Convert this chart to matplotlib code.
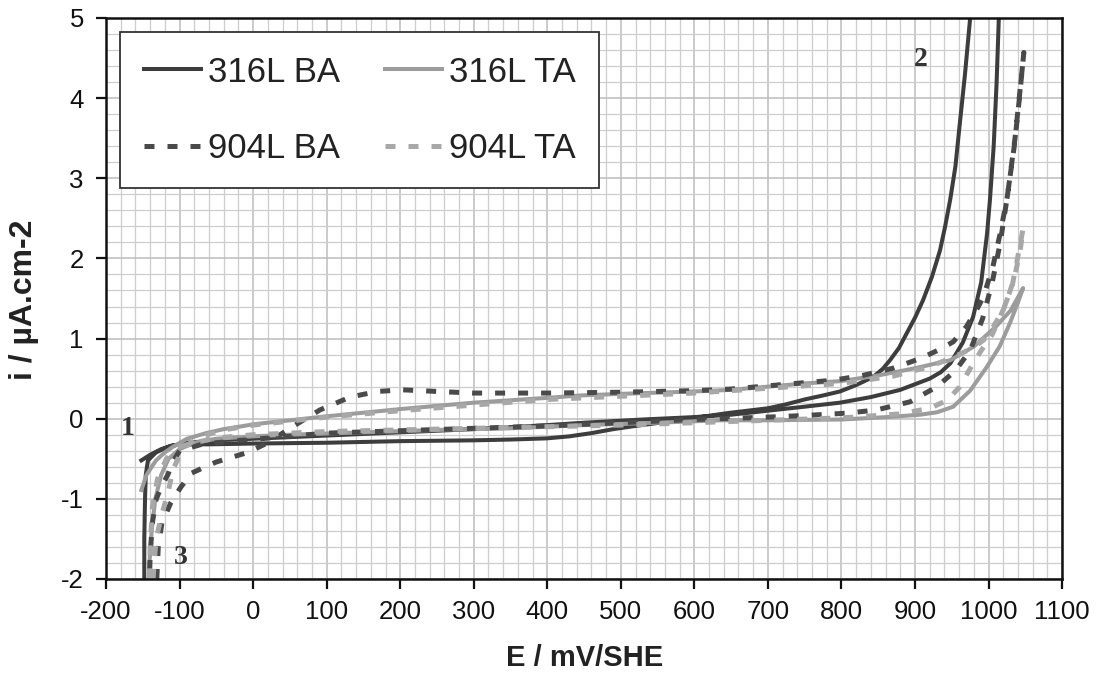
import matplotlib
matplotlib.use("Agg")
import matplotlib.pyplot as plt
from matplotlib.ticker import MultipleLocator

plt.rcParams["font.family"] = ["Liberation Sans", "DejaVu Sans"]
plt.rcParams["axes.unicode_minus"] = False

# potentiodynamic loops, E in mV/SHE, i in uA/cm2 (forward scan then reverse scan)
e_316_ba = [-152, -140, -125, -109, -90, -60, 0, 100, 200, 300, 350, 400, 430, 460, 490,
            520, 553, 600, 645, 700, 725, 750, 775, 798, 820, 843, 856, 866, 878, 889,
            900, 911, 923, 934, 941, 948, 955, 960, 968, 975, 980, 1000, 1017,
            1014, 1011, 1007, 1002, 998, 990, 979, 965, 948, 935, 920, 880, 840, 798,
            750, 700, 650, 600, 530, 450, 400, 300, 200, 100, 0, -50, -90, -115, -132,
            -143, -146, -147, -148, -148]
i_316_ba = [-0.52, -0.45, -0.38, -0.33, -0.32, -0.32, -0.31, -0.3, -0.28, -0.27, -0.26,
            -0.245, -0.22, -0.18, -0.13, -0.09, -0.05, 0.01, 0.07, 0.13, 0.18, 0.24,
            0.29, 0.34, 0.42, 0.52, 0.62, 0.73, 0.88, 1.07, 1.26, 1.48, 1.77, 2.1, 2.4,
            2.74, 3.15, 3.6, 4.3, 5.0, 5.8, 6.2, 5.8,
            5.0, 4.2, 3.4, 2.74, 2.31, 1.7, 1.27, 0.95, 0.69, 0.58, 0.5, 0.36, 0.27,
            0.2, 0.15, 0.1, 0.05, 0.02, -0.01, -0.05, -0.08, -0.13, -0.17, -0.21, -0.25,
            -0.27, -0.3, -0.35, -0.42, -0.52, -0.7, -1.0, -1.5, -2.0]

e_316_ta = [-152, -145, -132, -120, -109, -90, -64, -40, -19, 0, 50, 100, 200, 300, 400,
            445, 500, 600, 650, 700, 750, 800, 850, 900, 948, 980, 1010, 1030, 1047,
            1040, 1029, 1015, 998, 975, 952, 930, 907, 862, 800, 700, 635, 550, 450, 350,
            250, 150, 50, 0, -50, -80, -100, -115, -125, -133, -138, -141, -142]
i_316_ta = [-0.89, -0.7, -0.52, -0.42, -0.35, -0.25, -0.18, -0.13, -0.1, -0.07, -0.02,
            0.03, 0.12, 0.2, 0.26, 0.29, 0.31, 0.34, 0.36, 0.4, 0.44, 0.47, 0.54, 0.63,
            0.73, 0.9, 1.15, 1.35, 1.63,
            1.45, 1.19, 0.9, 0.65, 0.35, 0.15, 0.08, 0.05, 0.02, -0.01, -0.02, -0.02,
            -0.05, -0.08, -0.12, -0.14, -0.17, -0.2, -0.22, -0.25, -0.3, -0.38, -0.5,
            -0.7, -1.0, -1.4, -1.8, -2.0]

e_904_ba = [-131, -129, -124, -112, -98, -84, -65, -50, -25, -7, 20, 50, 91, 132, 169,
            204, 250, 300, 400, 500, 600, 650, 700, 750, 789, 829, 870, 907, 935, 952,
            970, 985, 993, 1006, 1016, 1025, 1035, 1042, 1048,
            1044, 1036, 1026, 1016, 1005, 992, 975, 955, 930, 893, 848, 809, 750, 700,
            600, 500, 400, 300, 200, 100, 23, -30, -70, -100, -110, -116, -125, -132,
            -137, -140, -141]
i_904_ba = [-2.0, -1.6, -1.3, -1.05, -0.85, -0.68, -0.6, -0.54, -0.47, -0.42, -0.3,
            -0.12, 0.11, 0.27, 0.34, 0.36, 0.34, 0.32, 0.32, 0.33, 0.35, 0.37, 0.41,
            0.45, 0.48, 0.54, 0.63, 0.75, 0.87, 0.96, 1.15, 1.38, 1.52, 1.9, 2.32, 2.74,
            3.4, 4.0, 4.57,
            4.2, 3.5, 2.8, 2.2, 1.7, 1.25, 0.85, 0.6, 0.4, 0.21, 0.11, 0.07, 0.04, 0.02,
            -0.01, -0.05, -0.09, -0.12, -0.15, -0.18, -0.24, -0.28, -0.32, -0.4, -0.55,
            -0.7, -0.85, -1.01, -1.3, -1.7, -2.0]

e_904_ta = [-136, -135, -132, -125, -116, -109, -100, -90, -70, -40, 0, 100, 200, 300,
            400, 500, 600, 700, 800, 870, 920, 955, 980, 993, 1006, 1020, 1032, 1039,
            1047,
            1043, 1035, 1022, 1005, 990, 979, 961, 944, 920, 880, 800, 700, 600, 500,
            400, 300, 200, 100, 0, -50, -80, -100, -118, -130, -137, -140, -141]
i_904_ta = [-2.0, -1.85, -1.51, -1.22, -0.93, -0.64, -0.45, -0.33, -0.22, -0.14, -0.08,
            0.02, 0.1, 0.17, 0.24, 0.28, 0.32, 0.38, 0.44, 0.53, 0.65, 0.78, 0.89, 0.98,
            1.14, 1.36, 1.65, 1.98, 2.37,
            2.1, 1.75, 1.4, 1.05, 0.85, 0.69, 0.4, 0.23, 0.13, 0.06, 0.01, -0.02, -0.05,
            -0.08, -0.1, -0.12, -0.14, -0.16, -0.2, -0.24, -0.3, -0.35, -0.5, -0.75,
            -1.1, -1.6, -2.0]

x_ticks = list(range(-200, 1101, 100))
y_ticks = list(range(-2, 6))

fig = plt.figure(figsize=(10.99, 6.79), dpi=100)
ax = fig.add_axes([0.0965, 0.1473, 0.8699, 0.8262])

dash = (0, (2.0, 2.6))
h1, = ax.plot(e_316_ba, i_316_ba, color="#3d3d3d", lw=2.9, label="316L BA")
h2, = ax.plot(e_316_ta, i_316_ta, color="#9c9c9c", lw=2.9, label="316L TA")
h3, = ax.plot(e_904_ba, i_904_ba, color="#4a4a4a", lw=3.6, ls=dash, label="904L BA")
h4, = ax.plot(e_904_ta, i_904_ta, color="#a8a8a8", lw=3.6, ls=dash, label="904L TA")

ax.set_xlim(-200, 1100)
ax.set_ylim(-2, 5)
ax.set_xticks(x_ticks)
ax.set_yticks(y_ticks)
ax.xaxis.set_minor_locator(MultipleLocator(20))
ax.yaxis.set_minor_locator(MultipleLocator(0.2))
ax.set_axisbelow(True)
ax.grid(which="major", color="#bcbcbc", lw=1.1)
ax.grid(which="minor", color="#cdcdcd", lw=0.9)

ax.tick_params(which="major", direction="out", length=7, width=1.6,
               labelsize=18.5, colors="#111111")
ax.tick_params(axis="x", which="major", pad=8)
ax.tick_params(axis="y", which="major", pad=9)
ax.tick_params(which="minor", length=0)
for sp in ax.spines.values():
    sp.set_linewidth(1.8)
    sp.set_color("#111111")

ax.set_xlabel("E / mV/SHE", fontsize=21, fontweight="bold", color="#222222",
              va="center", ha="center")
ax.xaxis.set_label_coords(0.501, -0.141)
ax.set_ylabel("i / µA.cm-2", fontsize=23, fontweight="bold", color="#222222",
              va="center", ha="center")
ax.yaxis.set_label_coords(-0.0858, 0.497)

# region markers
for xv, yv, s in [(-170, -0.12, "1"), (908, 4.48, "2"), (-99, -1.73, "3")]:
    ax.text(xv, yv, s, family="Liberation Serif", fontsize=20, fontweight="bold",
            color="#333333", ha="center", va="center")

leg = ax.legend(handles=[h1, h3, h2, h4], ncol=2, loc="upper left",
                bbox_to_anchor=(0.0146, 0.975), borderaxespad=0, fontsize=25,
                handlelength=1.64, handletextpad=0.2, columnspacing=1.3,
                labelspacing=1.24, borderpad=0.68, fancybox=False, framealpha=1)
leg.get_frame().set_edgecolor("#333333")
leg.get_frame().set_linewidth(1.3)
for t in leg.get_texts():
    t.set_color("#222222")

fig.savefig("out.png", dpi=100)
